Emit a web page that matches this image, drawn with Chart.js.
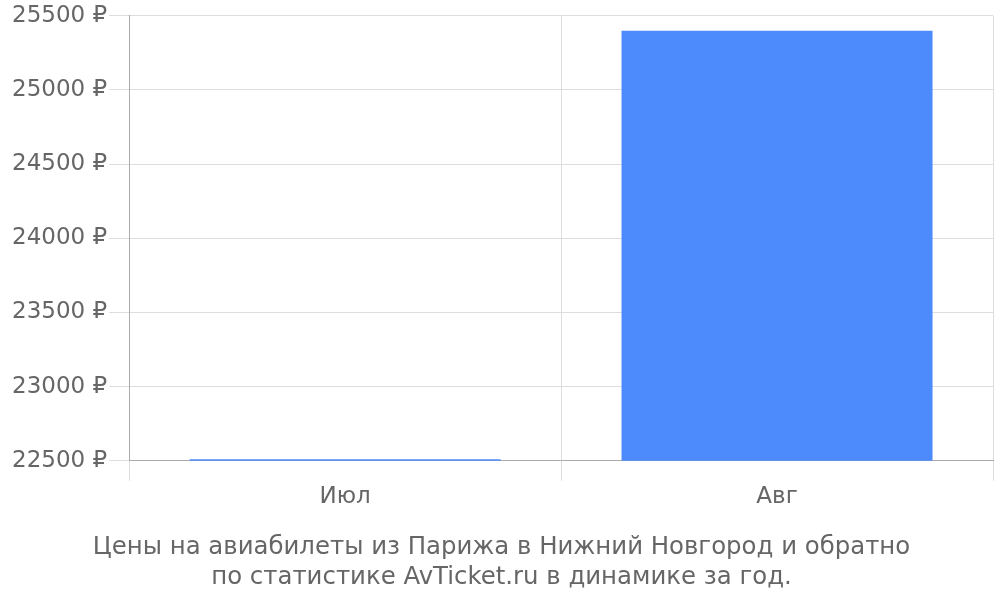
<!DOCTYPE html>
<html>
<head>
<meta charset="utf-8">
<script src="https://cdn.jsdelivr.net/npm/chart.js@4/dist/chart.umd.min.js"></script>
<style>
  html, body { margin: 0; padding: 0; background: #fff; }
  #wrap { width: 1000px; height: 600px; }
</style>
</head>
<body>
<div id="wrap"><canvas id="myChart"></canvas></div>
<script>
// months and average ticket prices (roubles)
let months = ['Июл', 'Авг'];
let prices = [22510, 25400];
let titleLines = ['Цены на авиабилеты из Парижа в Нижний Новгород и обратно', 'по статистике AvTicket.ru в динамике за год.'];

Chart.defaults.font.family = '"DejaVu Sans", sans-serif';
Chart.defaults.color = '#666';

let ctx = document.getElementById('myChart').getContext('2d');

new Chart(ctx, {
	type: 'bar',
	data: {
		labels: months,
		datasets: [
			{
				data: prices,
				backgroundColor: '#4d8afb',
			},
		],
	},
	options: {
		responsive: true,
		maintainAspectRatio: false,
		animation: false,
		layout: { padding: { top: 2, right: 7, left: 10, bottom: 4 } },
		plugins: {
			legend: { display: false },
			tooltip: { enabled: false },
			title: {
				display: true,
				position: 'bottom',
				text: titleLines,
				color: '#666',
				font: { size: 24.4, weight: 'normal' },
				padding: { top: 21, bottom: 4 },
				lineHeight: 1.15,
			},
		},
		scales: {
			x: {
				grid: { color: '#ddd', tickLength: 20, offset: true },
				border: { color: '#aaa' },
				ticks: { font: { size: 23 }, color: '#666', padding: 2 },
			},
			y: {
				min: 22500,
				max: 25500,
				ticks: {
					stepSize: 500,
					font: { size: 23 },
					color: '#666',
					padding: 2,
					callback: (v) => v + ' ₽',
				},
				grid: { color: '#ddd', tickLength: 20 },
				border: { color: '#aaa' },
			},
		},
	},
});
</script>
</body>
</html>
